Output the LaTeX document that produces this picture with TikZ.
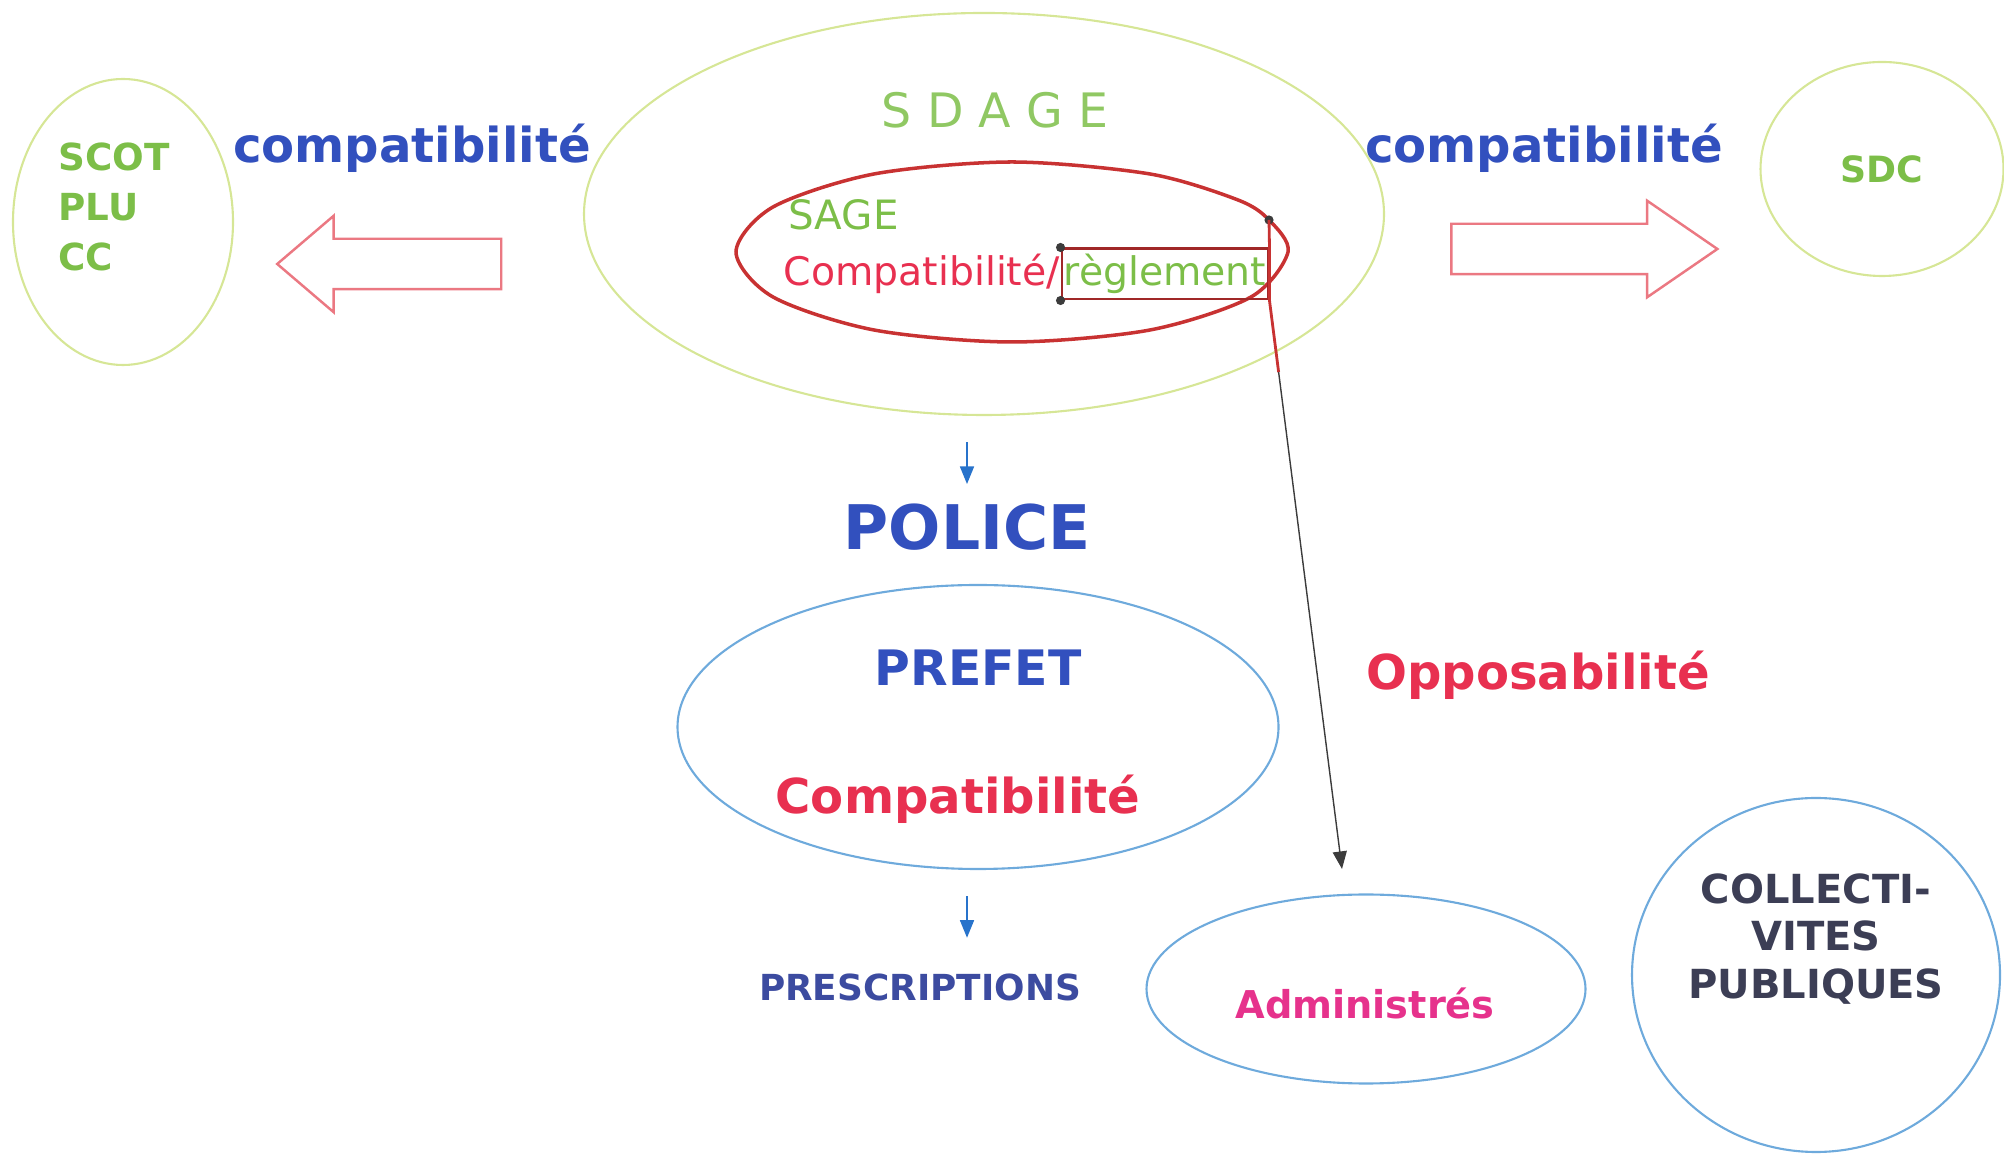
\documentclass[tikz,border=0pt]{standalone}
\usepackage{fontspec}
\setmainfont{DejaVu Sans}
\usepackage{tikz}
\usetikzlibrary{arrows.meta}
\usetikzlibrary{calc}
\usetikzlibrary{shapes.geometric}
\usetikzlibrary{shapes.arrows}
\usepackage{xcolor}
\definecolor{vert}{RGB}{124,190,72}
\definecolor{vertpale}{RGB}{214,230,150}
\definecolor{bleu}{RGB}{50,80,190}
\definecolor{bleuclair}{RGB}{110,170,220}
\definecolor{bleufonce}{RGB}{60,75,160}
\definecolor{rouge}{RGB}{232,48,80}
\definecolor{rose}{RGB}{235,120,130}
\definecolor{fuchsia}{RGB}{230,50,140}
\definecolor{ardoise}{RGB}{60,62,85}
\definecolor{crayon}{RGB}{200,50,50}
\definecolor{gris}{RGB}{60,60,60}

\begin{document}
\begin{tikzpicture}[
  verte/.style={draw=vertpale, ellipse, inner sep=0pt, line width=0.6pt},
  bleue/.style={draw=bleuclair, ellipse, inner sep=0pt, line width=0.6pt},
  grand/.style={font=\bfseries\fontsize{13.7}{16}\selectfont},
  creux/.style={draw=rose, line width=0.7pt, single arrow, single arrow head extend=0.23cm, inner xsep=0pt, inner ysep=0.24cm},
  fleche/.style={bleu!80!cyan, thin, -{Triangle[length=5pt,width=4pt]}}
]
\useasboundingbox (0,0) rectangle (20.04,11.55);

% en haut
\node [verte, minimum width=2.2cm, minimum height=2.86cm] (gauche) at (1.23,9.33) {};
\node [vert, anchor=west, align=left, font=\bfseries\fontsize{10.6}{14.2}\selectfont] (scot) at (0.46,9.48) {SCOT\\PLU\\CC};
\node [bleu, grand] (compg) at (4.12,10.07) {compatibilité};
\node [creux, minimum height=2.24cm, single arrow tip angle=81, shape border rotate=180] (flg) at (4.04,8.91) {};

\node [verte, minimum width=8.0cm, minimum height=4.02cm] (sdage) at (9.84,9.41) {};
\node [vert!85!white, font=\fontsize{13.5}{16}\selectfont] (sdagetxt) at (9.95,10.45) {S D A G E};
\draw [crayon, line width=1pt] plot [smooth cycle] coordinates {(7.36,9.03) (7.73,9.48) (8.74,9.81) (10.12,9.93) (11.50,9.81) (12.38,9.55) (12.69,9.35) (12.88,9.03) (12.51,8.58) (11.50,8.25) (10.12,8.13) (8.74,8.25) (7.73,8.58)};
\node [vert, anchor=west, font=\fontsize{11.5}{14}\selectfont] (sage) at (7.76,9.40) {SAGE};
\node [draw=crayon!80!black, text=vert, line width=0.8pt, inner ysep=1.5pt, inner xsep=0.5pt, font=\fontsize{11.2}{14}\selectfont] (regl) at (11.65,8.81) {règlement};
\node [rouge, anchor=base east, inner sep=0pt, font=\fontsize{11.2}{14}\selectfont] (comps) at (regl.base west) {Compatibilité/};
\coordinate (point) at (12.69,9.35);
\coordinate (cible) at (13.42,2.86);
\fill [gris] (regl.north west) circle (1.3pt);
\fill [gris] (regl.south west) circle (1.3pt);
\fill [gris] (point) circle (1.3pt);
\draw [crayon, line width=0.8pt] (point) -- (regl.north east) -- (regl.south east) -- ($(regl.south east)!0.126!(cible)$);
\draw [gris, thin, -{Triangle[length=5pt,width=4pt]}] ($(regl.south east)!0.126!(cible)$) -- (cible);

\node [bleu, grand] (compd) at (15.44,10.07) {compatibilité};
\node [creux, minimum height=2.66cm, single arrow tip angle=69] (fld) at (15.66,9.06) {};
\node [verte, text=vert, minimum width=2.43cm, minimum height=2.14cm, font=\bfseries\fontsize{10.3}{12}\selectfont] (sdc) at (18.82,9.86) {SDC};

% au milieu
\node [bleu, inner sep=0pt, font=\bfseries\fontsize{17.5}{20}\selectfont] (police) at (9.67,6.28) {POLICE};
\draw [fleche, shorten <=0.26cm, shorten >=0.19cm] (sdage.south -| police.north) -- (police.north);
\node [bleue, minimum width=6.01cm, minimum height=2.84cm] (prefet) at (9.78,4.28) {};
\node [bleu, font=\bfseries\fontsize{13.9}{16}\selectfont] (prefettxt) at (9.78,4.87) {PREFET};
\node [rouge, grand] (compp) at (9.58,3.56) {Compatibilité};
\node [rouge, grand] (oppo) at (15.38,4.80) {Opposabilité};

% en bas
\node [bleufonce, inner sep=0pt, font=\bfseries\fontsize{10.2}{12}\selectfont] (presc) at (9.20,1.68) {PRESCRIPTIONS};
\draw [fleche, shorten <=0.26cm, shorten >=0.35cm] (prefet.south -| police) -- (presc.north -| police);
\node [bleue, minimum width=4.39cm, minimum height=1.89cm] (admin) at (13.66,1.66) {};
\node [fuchsia, font=\bfseries\fontsize{10.9}{12}\selectfont] (admintxt) at (13.65,1.52) {Administrés};
\node [bleue, minimum width=3.68cm, minimum height=3.54cm] (collec) at (18.16,1.80) {};
\node [ardoise, align=center, font=\bfseries\fontsize{11.4}{13.6}\selectfont] (collectxt) at (18.16,2.16) {COLLECTI-\\VITES\\PUBLIQUES};

\end{tikzpicture}
\end{document}
